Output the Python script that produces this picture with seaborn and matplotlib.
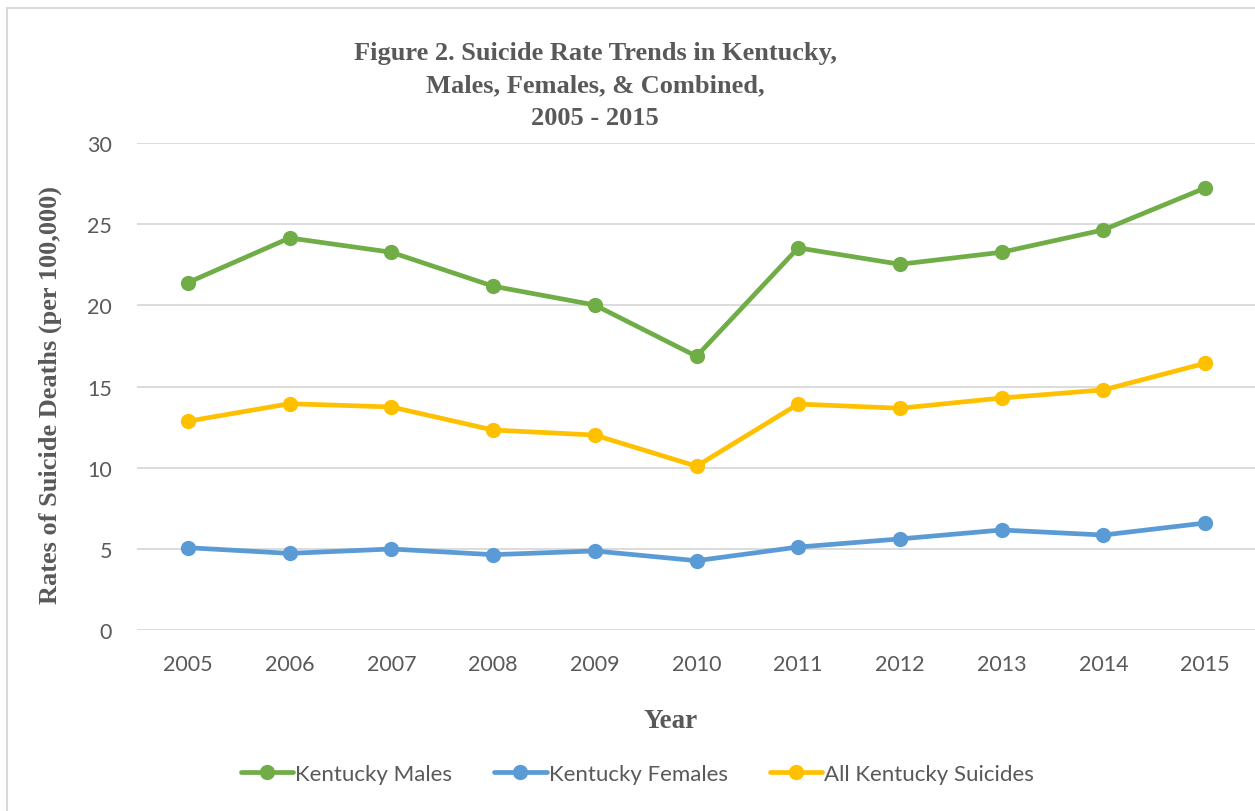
import matplotlib
matplotlib.use("Agg")
import matplotlib.pyplot as plt
import seaborn as sns
import pandas as pd
from matplotlib.patches import Rectangle

years = [2005, 2006, 2007, 2008, 2009, 2010, 2011, 2012, 2013, 2014, 2015]
males = [21.4, 24.15, 23.27, 21.18, 20.02, 16.86, 23.54, 22.53, 23.27, 24.65, 27.23]
females = [5.07, 4.72, 4.99, 4.64, 4.87, 4.27, 5.11, 5.61, 6.16, 5.85, 6.59]
combined = [12.86, 13.94, 13.74, 12.32, 12.01, 10.09, 13.92, 13.66, 14.29, 14.79, 16.43]
series_names = ["Kentucky Males", "Kentucky Females", "All Kentucky Suicides"]
colors = ["#70AD47", "#5B9BD5", "#FFC000"]

df = pd.concat([
    pd.DataFrame({"Year": years, "Rate": males, "Series": series_names[0]}),
    pd.DataFrame({"Year": years, "Rate": females, "Series": series_names[1]}),
    pd.DataFrame({"Year": years, "Rate": combined, "Series": series_names[2]}),
])

sns.set_theme(style="white")
plt.rcParams["font.family"] = ["Lato", "DejaVu Sans"]

W, H = 1255, 812
fig = plt.figure(figsize=(W / 100, H / 100), dpi=100)
ax = fig.add_axes([137 / W, 1 - 631 / H, (1256 - 137) / W, (631 - 144) / H])

sns.lineplot(data=df, x="Year", y="Rate", hue="Series", hue_order=series_names,
             palette=colors, marker="o", markersize=11, markeredgewidth=0,
             linewidth=3.4, ax=ax, legend=True)

ax.set_xlim(2004.5, 2015.5)
ax.set_ylim(0, 30)
ax.set_xticks(years)
ax.set_xticklabels([str(y) for y in years])
ax.set_yticks([0, 5, 10, 15, 20, 25, 30])
ax.yaxis.grid(True, color="#D9D9D9", linewidth=1.3)
ax.xaxis.grid(False)
ax.set_axisbelow(True)
for s in ax.spines.values():
    s.set_visible(False)
ax.tick_params(axis="both", length=0, labelsize=15.5, colors="#595959")
ax.tick_params(axis="x", pad=17)
ax.tick_params(axis="y", pad=18)
ax.set_xlabel("")
ax.set_ylabel("")

handles, labels = ax.get_legend_handles_labels()
ax.get_legend().remove()
leg = fig.legend(handles, labels, loc="center", bbox_to_anchor=(0.508, 1 - 775 / H),
                 ncol=3, frameon=False, fontsize=16, handlelength=2.35,
                 handletextpad=0.1, columnspacing=1.9)
for t in leg.get_texts():
    t.set_color("#595959")

serif = ["Liberation Serif", "DejaVu Serif"]
fig.text(595 / W, 1 - 86 / H,
         "Figure 2. Suicide Rate Trends in Kentucky,\nMales, Females, & Combined,\n2005 - 2015",
         ha="center", va="center", fontsize=19, fontweight="bold", color="#595959",
         family=serif, linespacing=1.55)
fig.text(671 / W, 1 - 721 / H, "Year", ha="center", va="center", fontsize=19.5,
         fontweight="bold", color="#595959", family=serif)
fig.text(50 / W, 1 - 395 / H, "Rates of Suicide Deaths (per 100,000)", ha="center",
         va="center", rotation=90, fontsize=19, fontweight="bold", color="#595959",
         family=serif)

fig.patches.append(Rectangle((7 / W, -0.1), 1.2, 1.1 - 9 / H, transform=fig.transFigure,
                             fill=False, edgecolor="#D9D9D9", linewidth=1.5, zorder=-1))

fig.savefig("out.png", dpi=100)
